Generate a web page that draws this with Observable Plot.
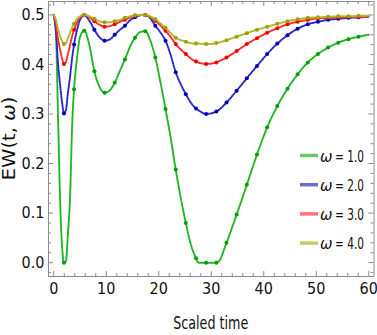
<!DOCTYPE html>
<html><head><meta charset="utf-8">
<script src="https://cdn.jsdelivr.net/npm/d3@7"></script>
<script src="https://cdn.jsdelivr.net/npm/@observablehq/plot@0.6"></script>
<style>
html,body{margin:0;padding:0;background:#fff;}
</style>
</head><body><div id="chart"></div>
<script>
// Scaled time samples (shared by all series)
const times = [0, 0.4, 0.8, 1.2, 1.6, 1.94, 2.3, 2.7, 3.1, 3.5, 3.87, 4.4, 5.0, 5.81, 6.8, 7.74, 8.7, 9.68, 10.6, 11.61, 12.6, 13.55, 14.5, 15.48, 16.4, 17.42, 18.4, 19.35, 20.3, 21.29, 22.3, 23.23, 24.2, 25.16, 26.1, 27.1, 27.5, 29.03, 30.97, 31.4, 32.9, 34.84, 36.77, 38.71, 40.65, 42.58, 44.52, 46.45, 48.39, 50.32, 52.26, 54.19, 56.13, 58.06, 60];

// EW(t, ω) for each ω
const ew1 = [0.5, 0.47, 0.30, 0.13, 0.03, 0.0, 0.002, 0.058, 0.13, 0.275, 0.35, 0.41, 0.455, 0.468, 0.438, 0.386, 0.355, 0.343, 0.347, 0.363, 0.387, 0.41, 0.435, 0.454, 0.465, 0.467, 0.448, 0.414, 0.365, 0.31, 0.25, 0.188, 0.13, 0.08, 0.037, 0.009, 0.0, 0.0, 0.0, 0.002, 0.04, 0.097, 0.157, 0.218, 0.273, 0.316, 0.351, 0.38, 0.404, 0.421, 0.434, 0.444, 0.451, 0.456, 0.46];
const ew2 = [0.5, 0.468, 0.404, 0.36, 0.322, 0.301, 0.307, 0.342, 0.375, 0.413, 0.44, 0.468, 0.49, 0.499, 0.488, 0.47, 0.455, 0.448, 0.45, 0.46, 0.47, 0.478, 0.489, 0.495, 0.499, 0.5, 0.493, 0.478, 0.465, 0.448, 0.418, 0.384, 0.36, 0.34, 0.323, 0.311, 0.308, 0.3, 0.305, 0.308, 0.323, 0.347, 0.372, 0.397, 0.421, 0.442, 0.459, 0.472, 0.481, 0.486, 0.49, 0.492, 0.494, 0.495, 0.496];
const ew3 = [0.5, 0.484, 0.452, 0.43, 0.411, 0.401, 0.404, 0.421, 0.438, 0.457, 0.47, 0.484, 0.495, 0.5, 0.495, 0.487, 0.48, 0.476, 0.477, 0.481, 0.486, 0.49, 0.495, 0.498, 0.5, 0.5, 0.496, 0.488, 0.479, 0.468, 0.455, 0.441, 0.43, 0.421, 0.412, 0.406, 0.404, 0.401, 0.404, 0.406, 0.414, 0.427, 0.441, 0.453, 0.464, 0.473, 0.481, 0.486, 0.49, 0.493, 0.494, 0.495, 0.496, 0.496, 0.497];
const ew4 = [0.5, 0.491, 0.472, 0.458, 0.447, 0.441, 0.443, 0.453, 0.464, 0.475, 0.482, 0.491, 0.497, 0.5, 0.497, 0.492, 0.487, 0.485, 0.485, 0.487, 0.49, 0.494, 0.497, 0.499, 0.5, 0.5, 0.497, 0.491, 0.483, 0.474, 0.463, 0.454, 0.449, 0.446, 0.443, 0.442, 0.442, 0.441, 0.443, 0.444, 0.449, 0.456, 0.463, 0.47, 0.476, 0.482, 0.487, 0.491, 0.494, 0.495, 0.496, 0.497, 0.497, 0.498, 0.498];

const omegaLabels = ["1.0", "2.0", "3.0", "4.0"];
const seriesValues = [ew1, ew2, ew3, ew4];

// Mesh points shown as dots along each curve
const meshTimes = [1.94, 3.87, 5.81, 7.74, 9.68, 11.61, 13.55, 15.48, 17.42, 19.35, 21.29, 23.23, 25.16, 27.1, 29.03, 30.97, 32.9, 34.84, 36.77, 38.71, 40.65, 42.58, 44.52, 46.45, 48.39, 50.32, 52.26, 54.19, 56.13, 58.06];

// Ticks
const xTicks = [0, 10, 20, 30, 40, 50, 60];
const xMinorTicks = [2, 4, 6, 8, 12, 14, 16, 18, 22, 24, 26, 28, 32, 34, 36, 38, 42, 44, 46, 48, 52, 54, 56, 58];
const yTicks = [0, 0.1, 0.2, 0.3, 0.4, 0.5];
const yMinorTicks = [-0.02, 0.02, 0.04, 0.06, 0.08, 0.12, 0.14, 0.16, 0.18, 0.22, 0.24, 0.26, 0.28, 0.32, 0.34, 0.36, 0.38, 0.42, 0.44, 0.46, 0.48, 0.52];

const xLabel = "Scaled time";

const lineColors = ["#22b422", "#2a2ac8", "#ff2a2a", "#b6b62c"];
const dotColors = ["#00a000", "#0000b4", "#f00000", "#a0a000"];
const legendColors = ["#6ac86a", "#6b6bcf", "#ff7373", "#c9c966"];

const FONT = '"Liberation Sans Narrow", "DejaVu Sans Condensed", "Liberation Sans", Arial, sans-serif';
const frameStroke = "#8c8c8c";

const W = 377, H = 335;
const mL = 48, mR = 3.5, mT = 1, mB = 59;
const frameW = W - mL - mR, frameH = H - mT - mB;

const seriesRows = seriesValues.map((vals, i) => times.map((t, j) => ({t, v: vals[j], s: i})));

const seriesMarks = seriesRows.flatMap((rows, i) => [
  Plot.line(rows, {x: "t", y: "v", stroke: lineColors[i], strokeWidth: 2, strokeDasharray: "1,1.4", curve: "monotone-x"}),
  Plot.dot(rows.filter(d => meshTimes.includes(d.t)), {x: "t", y: "v", r: 2, fill: dotColors[i], stroke: "none"})
]);

function labelsAndLegend(index, scales, values, dims) {
  const {width, height, marginLeft, marginRight, marginTop, marginBottom} = dims;
  const g = d3.create("svg:g").attr("font-family", FONT).attr("fill", "#111");
  const cx = (marginLeft + width - marginRight) / 2;
  g.append("text")
    .attr("x", cx).attr("y", height - marginBottom + 47)
    .attr("text-anchor", "middle").attr("dominant-baseline", "central")
    .attr("font-size", 17).attr("textLength", 75).attr("lengthAdjust", "spacingAndGlyphs")
    .text(xLabel);
  const cy = (marginTop + height - marginBottom) / 2;
  const yl = g.append("text")
    .attr("transform", `translate(8.5,${cy}) rotate(-90)`)
    .attr("text-anchor", "middle").attr("dominant-baseline", "central")
    .attr("font-size", 17).attr("textLength", 84).attr("lengthAdjust", "spacingAndGlyphs");
  yl.append("tspan").text("EW(t, ");
  yl.append("tspan").attr("font-style", "italic").text("ω");
  yl.append("tspan").text(")");
  omegaLabels.forEach((s, i) => {
    const y = marginTop + 154.5 + i * 29.2;
    const x0 = marginLeft + 252;
    g.append("line").attr("x1", x0).attr("x2", x0 + 18).attr("y1", y).attr("y2", y)
      .attr("stroke", legendColors[i]).attr("stroke-width", 3.5);
    g.append("text").attr("x", x0 + 20).attr("y", y + 0.5)
      .attr("text-anchor", "start").attr("dominant-baseline", "central")
      .attr("font-size", 16.5).attr("font-style", "italic")
      .text("ω");
    g.append("text").attr("x", x0 + 35).attr("y", y + 0.5)
      .attr("text-anchor", "start").attr("dominant-baseline", "central")
      .attr("font-size", 16.5)
      .attr("textLength", 29).attr("lengthAdjust", "spacingAndGlyphs")
      .text("= " + s);
  });
  return g.node();
}

const chart = Plot.plot({
  width: W, height: H,
  marginLeft: mL, marginRight: mR, marginTop: mT, marginBottom: mB,
  style: {fontFamily: FONT, fontSize: "16px", background: "#fff", color: "#111"},
  x: {domain: [-1, 61]},
  y: {domain: [-0.028, 0.527]},
  marks: [
    // inward frame ticks
    Plot.ruleX(xTicks, {x: d => d, stroke: frameStroke, insetTop: frameH - 5}),
    Plot.ruleX(xTicks, {x: d => d, stroke: frameStroke, insetBottom: frameH - 5}),
    Plot.ruleX(xMinorTicks, {x: d => d, stroke: frameStroke, insetTop: frameH - 3}),
    Plot.ruleX(xMinorTicks, {x: d => d, stroke: frameStroke, insetBottom: frameH - 3}),
    Plot.ruleY(yTicks, {y: d => d, stroke: frameStroke, insetRight: frameW - 5}),
    Plot.ruleY(yTicks, {y: d => d, stroke: frameStroke, insetLeft: frameW - 5}),
    Plot.ruleY(yMinorTicks, {y: d => d, stroke: frameStroke, insetRight: frameW - 3}),
    Plot.ruleY(yMinorTicks, {y: d => d, stroke: frameStroke, insetLeft: frameW - 3}),
    ...seriesMarks,
    Plot.frame({stroke: frameStroke}),
    Plot.axisX({ticks: xTicks, tickSize: 0, tickPadding: 6, label: null, fill: "#111"}),
    Plot.axisY({ticks: yTicks, tickSize: 0, tickPadding: 4, tickFormat: d3.format(".1f"), label: null, fill: "#111"}),
    labelsAndLegend
  ]
});
document.getElementById("chart").appendChild(chart);
</script>
</body></html>
